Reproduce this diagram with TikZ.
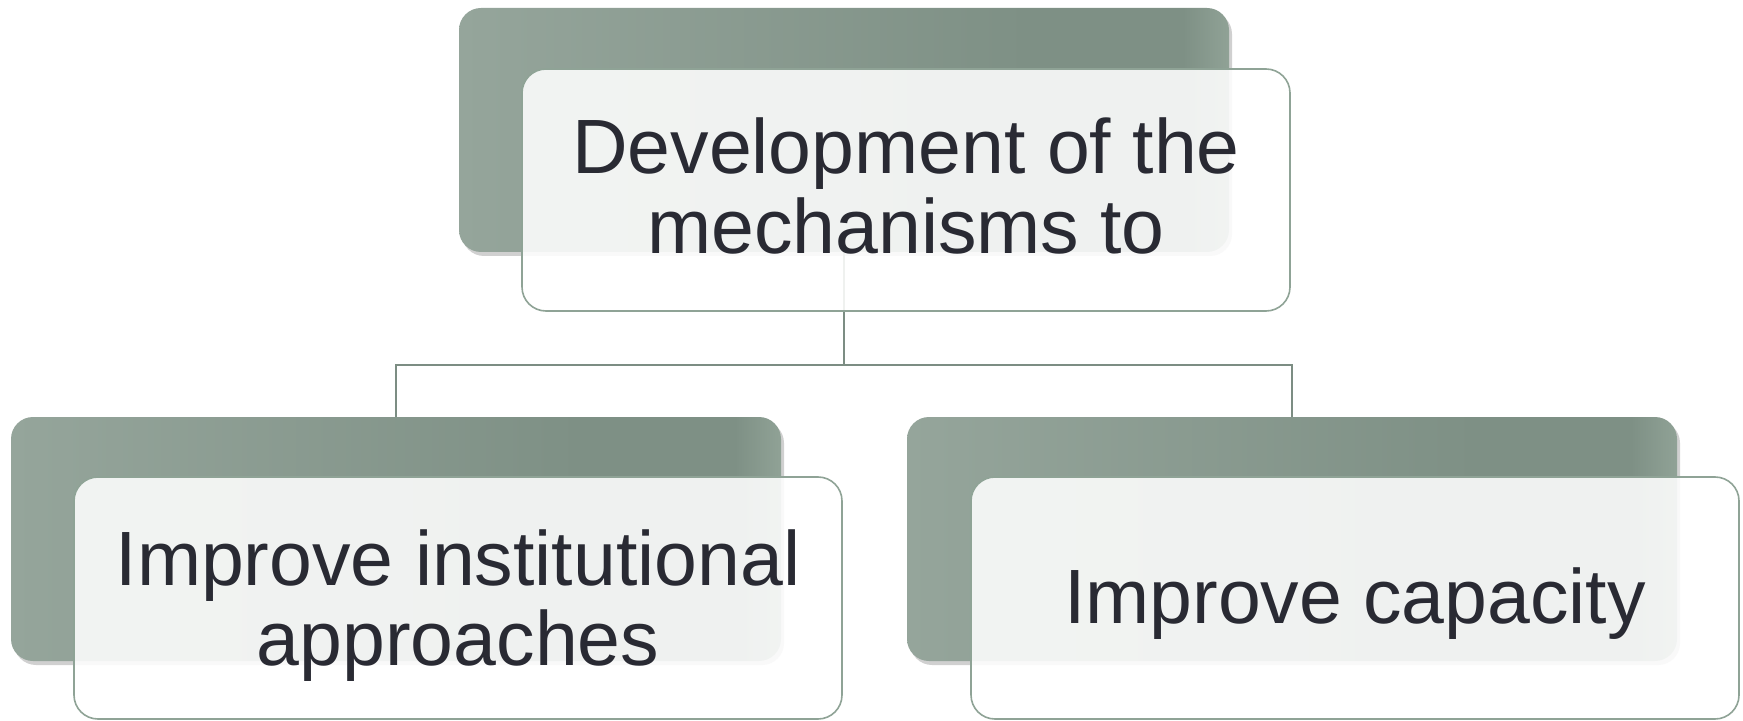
\documentclass[tikz,border=0pt]{standalone}
\usepackage{fontspec}
\setmainfont{Liberation Sans}
\usetikzlibrary{shadows}
\definecolor{backA}{RGB}{149,165,155}
\definecolor{backB}{RGB}{126,144,133}
\definecolor{backC}{RGB}{144,162,150}
\definecolor{frameC}{RGB}{143,163,150}
\definecolor{lineC}{RGB}{124,141,131}
\definecolor{textC}{RGB}{41,42,51}
\pgfdeclarehorizontalshading{backshade}{100bp}{color(0bp)=(backA); color(25bp)=(backA); color(62bp)=(backB); color(72bp)=(backB); color(75bp)=(backC); color(100bp)=(backC)}
\begin{document}
\begin{tikzpicture}[x=0.5pt,y=-0.5pt,
  backbox/.style={rectangle, rounded corners=11pt, minimum width=385pt, minimum height=122pt,
    inner sep=0pt, outer sep=0pt, shading=backshade,
    drop shadow={shadow xshift=1.5pt, shadow yshift=-2pt, opacity=0.3, fill=black!60}},
  frontbox/.style={rectangle, rounded corners=12pt, minimum width=384pt, minimum height=121pt,
    inner sep=0pt, outer sep=0pt, draw=frameC, line width=0.8pt, fill=white,
    fill opacity=0.88, draw opacity=1},
  conn/.style={draw=lineC, line width=1pt},
  boxtext/.style={anchor=base, inner sep=0pt, text=textC, font=\fontsize{38.5}{40}\selectfont}
]
\useasboundingbox (0,0) rectangle (1743,721);
\fill[white] (0,0) rectangle (1743,721);
% back boxes
\node[backbox] (topback) at (844,130) {};
\node[backbox] (leftback) at (396,539) {};
\node[backbox] (rightback) at (1292,539) {};
% connectors
\draw[conn] (topback.south) -- ++(0,113) coordinate (j) -| (leftback.north);
\draw[conn] (j) -| (rightback.north);
% front boxes
\node[frontbox] (topfront) at (906,190) {};
\node[frontbox] (leftfront) at (458,598) {};
\node[frontbox] (rightfront) at (1355,598) {};
% texts
\node[boxtext] (toptext) at (906,174) {\begin{tabular}[t]{@{}c@{}}Development of the\\mechanisms to\end{tabular}};
\node[boxtext] (lefttext) at (458,585) {\begin{tabular}[t]{@{}c@{}}Improve institutional\\approaches\end{tabular}};
\node[boxtext] (righttext) at (1355,623) {Improve capacity};
\end{tikzpicture}
\end{document}
